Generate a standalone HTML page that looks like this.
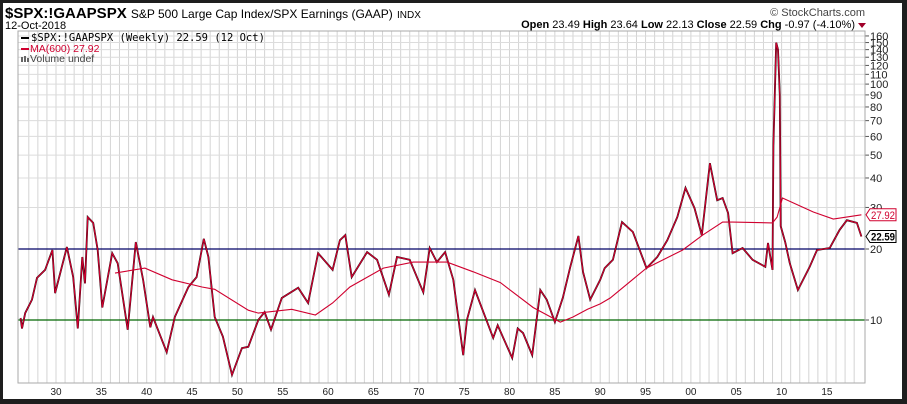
<!DOCTYPE html>
<html><head><meta charset="utf-8"><style>
html,body{margin:0;padding:0;background:#222;}
#wrap{position:relative;width:907px;height:404px;background:#1e1e1e;overflow:hidden;font-family:"Liberation Sans",sans-serif;}
#card{position:absolute;left:3px;top:3px;width:899px;height:396px;background:#fff;}
</style></head><body>
<div id="wrap">
<div id="card"></div>
<svg id="svg" width="907" height="404" style="position:absolute;left:0;top:0">
<text x="5" y="18" font-size="15" font-weight="bold" font-family="Liberation Sans,sans-serif">$SPX:!GAAPSPX <tspan font-size="12" font-weight="normal">S&amp;P 500 Large Cap Index/SPX Earnings (GAAP)</tspan> <tspan font-size="10" font-weight="normal">INDX</tspan></text>
<text x="5" y="29" font-size="11">12-Oct-2018</text>
<text x="865" y="16" font-size="11" fill="#444" text-anchor="end">© StockCharts.com</text>
<text x="855" y="28" font-size="11" text-anchor="end"><tspan font-weight="bold">Open</tspan> 23.49 <tspan font-weight="bold">High</tspan> 23.64 <tspan font-weight="bold">Low</tspan> 22.13 <tspan font-weight="bold">Close</tspan> 22.59 <tspan font-weight="bold">Chg</tspan> -0.97 (-4.10%)</text>
<polygon points="858,23 866,23 862,28" fill="#a0002a"/>
<g id="grid"></g>
<g id="series"></g>
<rect x="18" y="31" width="847" height="352" fill="none" stroke="#aaa"/>
<g>
<rect x="21" y="37" width="8" height="2" fill="#000"/>
<text x="31" y="41" font-size="10.5" font-family="DejaVu Sans Mono,monospace">$SPX:!GAAPSPX (Weekly) 22.59 (12 Oct)</text>
<rect x="21" y="48" width="8" height="2" fill="#d0002f"/>
<text x="30" y="52" font-size="10.5" fill="#d0002f">MA(600) 27.92</text>
<rect x="21" y="57" width="2" height="5" fill="#666"/><rect x="24" y="56" width="2" height="6" fill="#666"/><rect x="27" y="58" width="2" height="4" fill="#666"/>
<text x="30" y="62" font-size="10.5" fill="#444">Volume undef</text>
</g>
</svg>
</div>
<script>
const priceYears=[1926.1,1926.25,1926.6,1927.35,1927.9,1928.8,1929.6,1929.9,1931.2,1931.9,1932.4,1932.9,1933.2,1933.5,1934.1,1934.6,1935.1,1936.2,1936.8,1937.9,1938.8,1939.6,1940.4,1940.7,1942.2,1943.1,1944.6,1945.5,1946.3,1946.8,1947.5,1948.4,1949.4,1950.5,1951.2,1952.3,1953.0,1953.7,1954.9,1956.7,1957.8,1958.9,1960.5,1961.3,1961.9,1962.6,1964.3,1965.4,1966.7,1967.6,1969.0,1970.5,1971.2,1972.0,1972.9,1973.8,1974.9,1975.3,1976.2,1978.2,1978.7,1980.3,1980.9,1981.5,1982.5,1983.4,1984.1,1985.0,1985.9,1986.7,1987.6,1988.1,1988.9,1990.0,1990.5,1991.4,1992.4,1993.6,1995.1,1996.3,1997.4,1998.5,1999.4,2000.4,2001.2,2002.1,2002.9,2003.5,2004.1,2004.6,2005.7,2006.8,2008.2,2008.5,2009.0,2009.1,2009.4,2009.6,2009.8,2009.9,2010.4,2010.9,2011.8,2013.1,2013.9,2015.3,2016.4,2017.2,2018.3,2018.8];
const priceValues=[10.2,9.2,10.7,12.2,15.1,16.3,19.8,13.0,20.4,15.2,9.2,18.5,14.3,27.3,25.8,19.8,11.3,19.2,17.4,9.1,21.4,14.8,9.3,10.3,7.3,10.3,13.8,15.2,22.1,18.5,10.3,8.5,5.85,7.6,7.7,10,10.8,9.1,12.4,13.7,11.8,19.2,16.3,21.8,22.9,15.2,19.4,18,12.8,18.5,18,13.1,20.2,17.6,19.4,14.8,7.1,10,13.4,8.4,9.5,6.9,9.2,8.8,7.1,13.4,12.2,9.8,12.5,16.8,22.7,16,12.2,14.8,16.6,18,26,23.6,16.6,18.5,21.8,27.3,36.3,29.8,22.9,46.2,32.2,32.9,28.4,19.2,20.2,18,16.8,21.2,16.3,55,150,140,90,25,21.4,17.4,13.4,16.8,19.8,20.2,24.1,26.5,25.8,22.59];
const maYears=[1936.5,1939.8,1942.8,1946.1,1947.5,1951.2,1952.3,1956.0,1958.6,1960.5,1962.4,1966.1,1969.4,1973.1,1976.0,1979.0,1982.6,1985.6,1987.0,1988.6,1990.0,1991.1,1995.1,1999.1,2001.3,2003.5,2004.6,2009.0,2009.5,2010.1,2013.5,2015.7,2018.8];
const maValues=[15.8,16.6,14.8,13.8,13.5,11.0,10.7,11.1,10.5,11.8,13.8,16.6,17.6,17.6,16.0,14.4,11.3,9.8,10.3,11.1,11.7,12.4,16.6,19.8,22.9,26,26,25.8,27.3,32.9,28.7,26.8,27.92];
const yTicks=[10,20,30,40,50,60,70,80,90,100,110,120,130,140,150,160];
const xTickYears=[1930,1935,1940,1945,1950,1955,1960,1965,1970,1975,1980,1985,1990,1995,2000,2005,2010,2015];
const xLabels=["30","35","40","45","50","55","60","65","70","75","80","85","90","95","00","05","10","15"];
const lastPrice=22.59, lastMA=27.92;

const L=18,R=865,T=31,B=383;
function xs(yr){return 56+(yr-1930)*9.07;}
function ys(v){return 320-235.9*Math.log10(v/10);}
const NS="http://www.w3.org/2000/svg";
function mk(tag,attrs,parent){const e=document.createElementNS(NS,tag);for(const k in attrs)e.setAttribute(k,attrs[k]);parent.appendChild(e);return e;}
const grid=document.getElementById('grid'),ser=document.getElementById('series'),svg=document.getElementById('svg');
for(let yr=1927;yr<=2018;yr++){
  const ln=mk('line',{x1:xs(yr),x2:xs(yr),y1:T,y2:B,stroke:'#d4d4d4','stroke-width':1},grid);
  
  
}
yTicks.forEach(v=>{
  const y=ys(v);
  const ln=mk('line',{x1:L,x2:R,y1:y,y2:y,stroke:'#dcdcdc','stroke-width':1},grid);
  
  
  const tk=mk('line',{x1:R,x2:R+4,y1:y,y2:y,stroke:'#555'},grid);
  
  
  const t=mk('text',{x:R+5,y:y+4,'font-size':11,fill:'#222'},grid);
  t.textContent=v;
  
  
});
xTickYears.forEach((yr,i)=>{
  const t=mk('text',{x:xs(yr),y:395,'font-size':10,'text-anchor':'middle',fill:'#222'},grid);
  t.textContent=xLabels[i];
  
  
});
const l20=mk('line',{x1:L,x2:R,y1:ys(20),y2:ys(20),stroke:'#000066','stroke-width':1.2},ser);


const l10=mk('line',{x1:L,x2:R,y1:ys(10),y2:ys(10),stroke:'#006600','stroke-width':1.2},ser);


const pts=priceYears.map((yr,i)=>xs(yr).toFixed(1)+','+ys(priceValues[i]).toFixed(1)).join(' ');
const pb=mk('polyline',{points:pts,fill:'none',stroke:'#000','stroke-width':1.8},ser);


const pr=mk('polyline',{points:pts,fill:'none',stroke:'#d0002f','stroke-width':1.2},ser);


const mpts=maYears.map((yr,i)=>xs(yr).toFixed(1)+','+ys(maValues[i]).toFixed(1)).join(' ');
const ma=mk('polyline',{points:mpts,fill:'none',stroke:'#d0002f','stroke-width':1.1},ser);


function tag(v,color,bold,name){
  const y=ys(v);
  const g=mk('g',{},svg);
  
  
  mk('polygon',{points:`${R+1},${y} ${R+5},${y-6} ${R+31},${y-6} ${R+31},${y+6} ${R+5},${y+6}`,fill:'#fff',stroke:color,'stroke-width':1},g);
  const t=mk('text',{x:R+6,y:y+4,'font-size':bold?11:11,fill:color,'font-weight':bold?'bold':'normal',textLength:24,lengthAdjust:'spacingAndGlyphs'},g);
  t.textContent=v.toFixed(2);
}
tag(lastMA,'#d0002f',false,'ma-value-tag');
tag(lastPrice,'#000',true,'price-value-tag');
</script>
</body></html>
